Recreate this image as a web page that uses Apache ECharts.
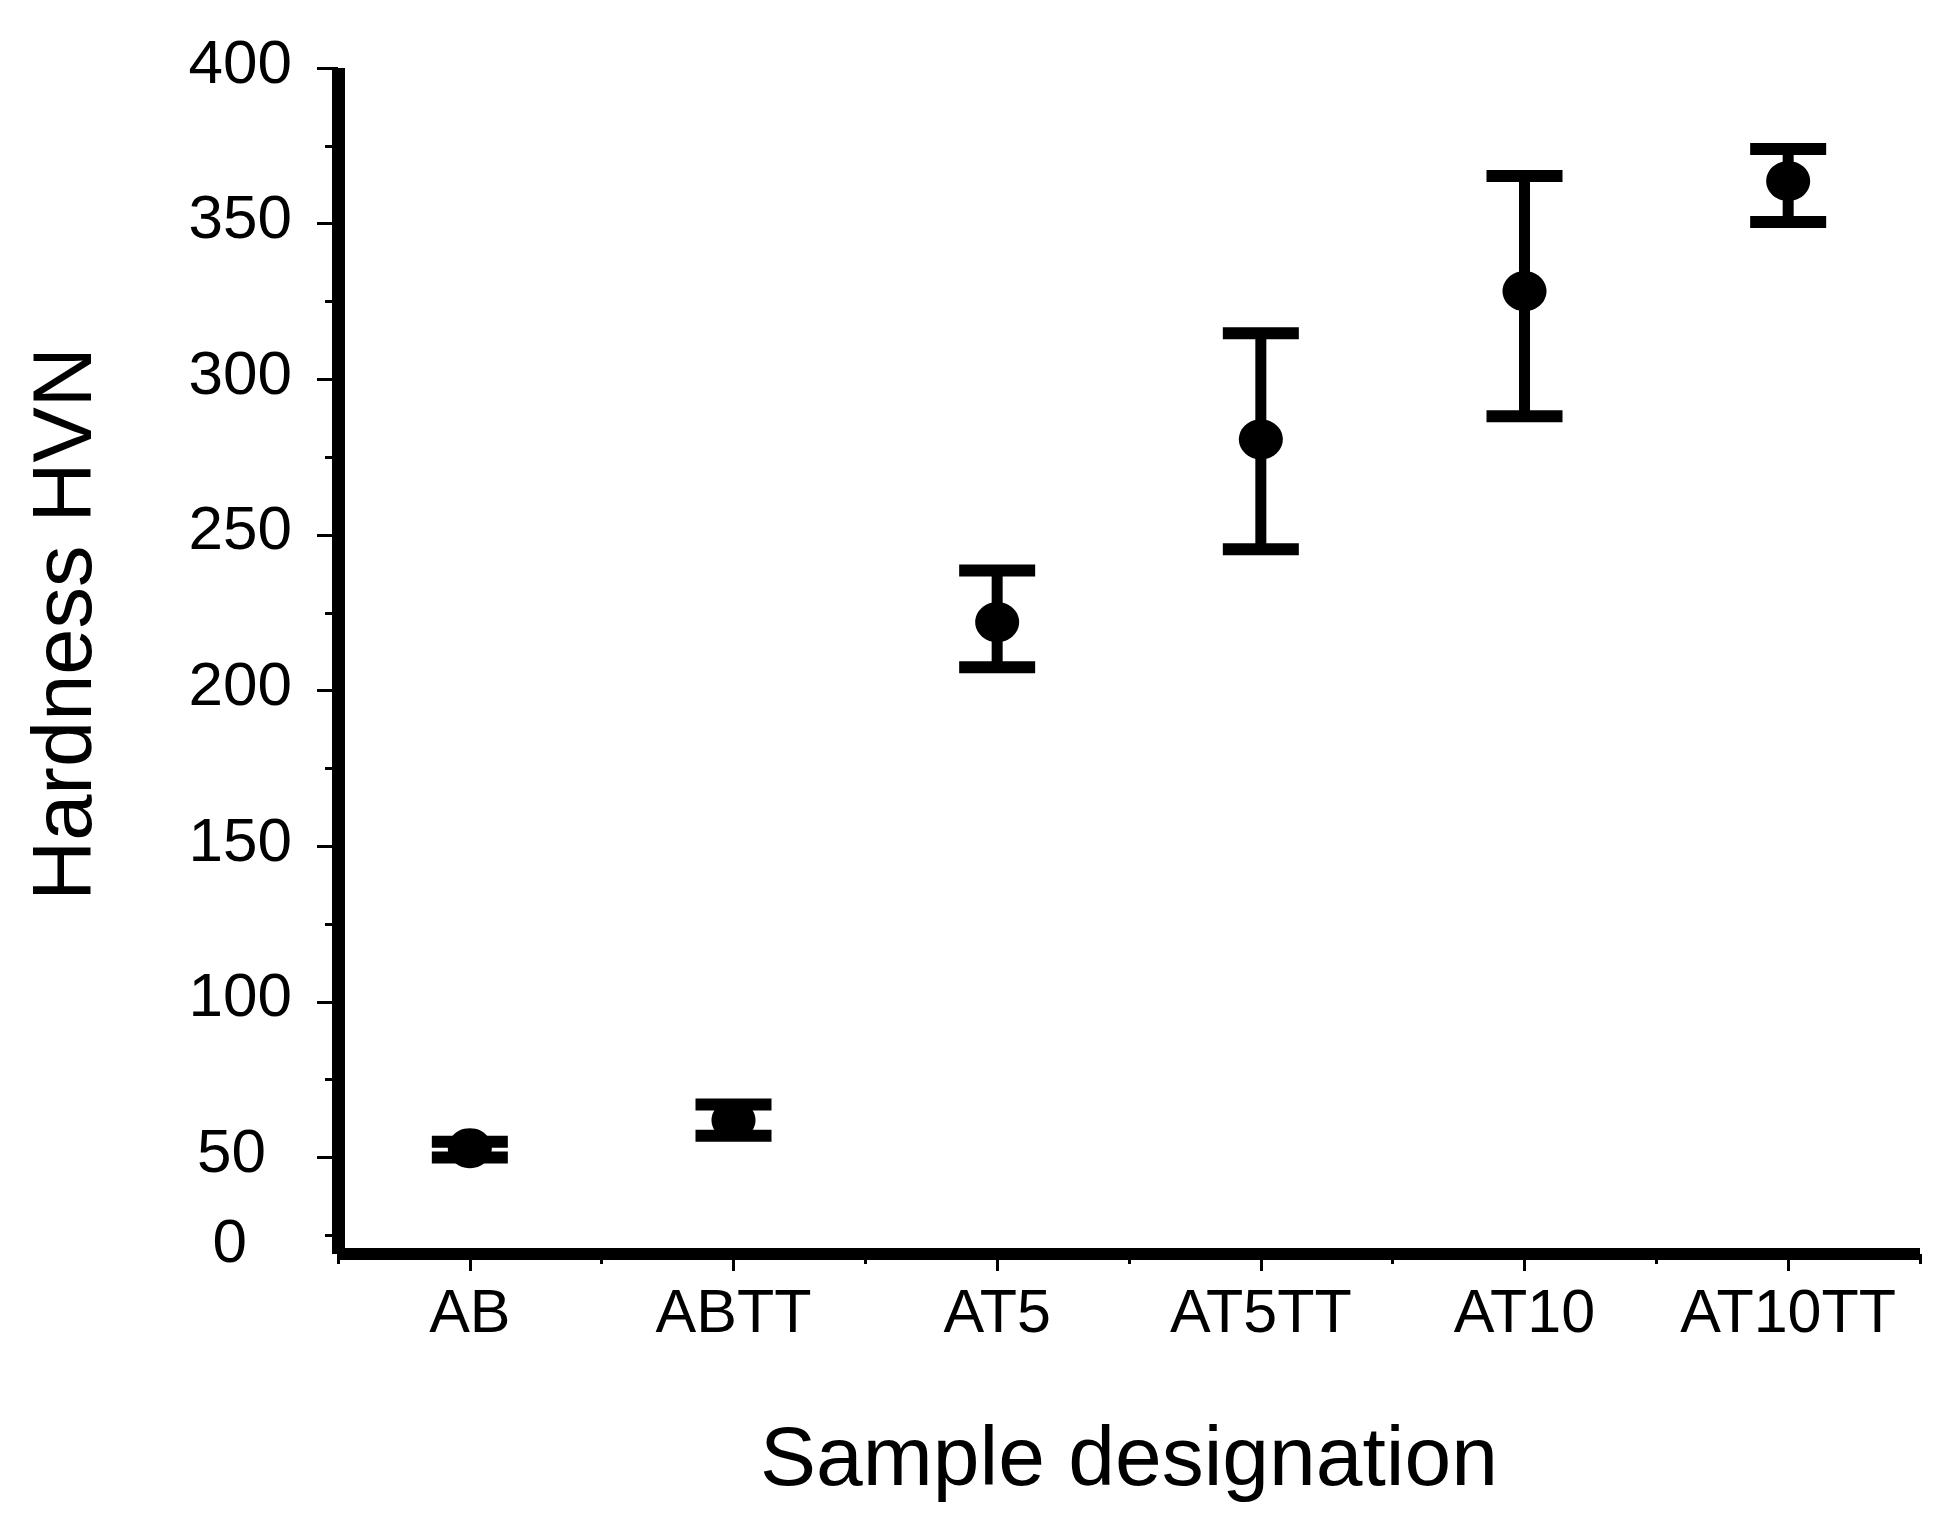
<!DOCTYPE html>
<html>
<head>
<meta charset="utf-8">
<script src="https://cdn.jsdelivr.net/npm/echarts@6/dist/echarts.min.js"></script>
<style>
  html, body { margin: 0; padding: 0; background: #fff; }
  #chart { width: 1957px; height: 1531px; }
</style>
</head>
<body>
<div id="chart"></div>
<script>
// ---- data ----
const categories = ['AB', 'ABTT', 'AT5', 'AT5TT', 'AT10', 'AT10TT'];
const meanValues  = [53, 62, 222, 280.7, 328.3, 363.7];
const upperValues = [55.1, 67, 238.6, 314.8, 365.3, 374];
const lowerValues = [50, 57, 207.5, 245.4, 288.1, 350.5];

// y tick labels (the "0" label sits just below the 25 minor tick in the original)
const yLabelValues = [21, 50, 100, 150, 200, 250, 300, 350, 400];
const yLabelTexts  = ['0', '50', '100', '150', '200', '250', '300', '350', '400'];
const yMajorTicks  = [50, 100, 150, 200, 250, 300, 350, 400];
const yMinorTicks  = [25, 75, 125, 175, 225, 275, 325, 375];

const FONT = '"Liberation Sans", Arial, sans-serif';

const labelStyleFor = { '0': 'b', '50': 'a' };

const chart = echarts.init(document.getElementById('chart'), null, { renderer: 'svg' });

const errData = categories.map((c, i) => [i, lowerValues[i], upperValues[i]]);

const option = {
  animation: false,
  backgroundColor: '#ffffff',
  grid: { left: 338, top: 68, width: 1582, height: 1186, containLabel: false },
  xAxis: [
    {
      type: 'category',
      data: categories,
      boundaryGap: true,
      position: 'bottom',
      axisLine: { show: true, lineStyle: { color: '#000', width: 12, cap: 'butt' } },
      axisTick: { show: true, alignWithLabel: true, interval: 0, length: 17, lineStyle: { color: '#000', width: 3 } },
      axisLabel: { show: true, interval: 0, hideOverlap: false, color: '#000', fontFamily: FONT, fontSize: 61, margin: 26 },
      splitLine: { show: false },
      name: 'Sample designation',
      nameLocation: 'middle',
      nameGap: 160,
      nameTextStyle: { color: '#000', fontFamily: FONT, fontSize: 84 }
    },
    {
      type: 'category',
      data: categories,
      boundaryGap: true,
      position: 'bottom',
      axisLine: { show: false },
      axisTick: { show: true, alignWithLabel: false, interval: 0, length: 10, lineStyle: { color: '#000', width: 3 } },
      axisLabel: { show: false },
      splitLine: { show: false }
    }
  ],
  yAxis: [
    {
      type: 'value',
      min: 19,
      max: 400,
      position: 'left',
      axisLine: { show: true, lineStyle: { color: '#000', width: 13, cap: 'butt' } },
      axisTick: { show: true, customValues: yMajorTicks, length: 21, lineStyle: { color: '#000', width: 3 } },
      axisLabel: {
        show: true,
        customValues: yLabelValues,
        hideOverlap: false,
        margin: 46,
        padding: [0, 0, 14, 0],
        formatter: function (v) {
          const i = yLabelValues.indexOf(v);
          const t = i >= 0 ? yLabelTexts[i] : String(v);
          const s = labelStyleFor[t] || 'n';
          return '{' + s + '|' + t + '}';
        },
        rich: {
          n: { color: '#000', fontFamily: FONT, fontSize: 62 },
          a: { color: '#000', fontFamily: FONT, fontSize: 62, padding: [0, 26, 0, 0] },
          b: { color: '#000', fontFamily: FONT, fontSize: 62, padding: [0, 45, 0, 0] }
        }
      },
      splitLine: { show: false },
      name: 'Hardness HVN',
      nameLocation: 'middle',
      nameRotate: 90,
      nameGap: 234,
      nameTextStyle: { color: '#000', fontFamily: FONT, fontSize: 83, padding: [0, 0, 0, 74] }
    },
    {
      type: 'value',
      min: 19,
      max: 400,
      position: 'left',
      axisLine: { show: false },
      axisTick: { show: true, customValues: yMinorTicks, length: 13, lineStyle: { color: '#000', width: 3 } },
      axisLabel: { show: false },
      splitLine: { show: false }
    }
  ],
  series: [
    {
      type: 'custom',
      xAxisIndex: 0,
      yAxisIndex: 0,
      data: errData,
      z: 3,
      renderItem: function (params, api) {
        const x = api.value(0);
        const lo = api.coord([x, api.value(1)]);
        const hi = api.coord([x, api.value(2)]);
        const hw = 38;
        return {
          type: 'group',
          children: [
            { type: 'line', shape: { x1: lo[0], y1: lo[1], x2: hi[0], y2: hi[1] }, style: { stroke: '#000', lineWidth: 11 } },
            { type: 'line', shape: { x1: hi[0] - hw, y1: hi[1], x2: hi[0] + hw, y2: hi[1] }, style: { stroke: '#000', lineWidth: 12 } },
            { type: 'line', shape: { x1: lo[0] - hw, y1: lo[1], x2: lo[0] + hw, y2: lo[1] }, style: { stroke: '#000', lineWidth: 12 } }
          ]
        };
      }
    },
    {
      type: 'scatter',
      xAxisIndex: 0,
      yAxisIndex: 0,
      data: meanValues,
      symbol: 'circle',
      symbolSize: [44, 40],
      itemStyle: { color: '#000', opacity: 1 },
      z: 4
    }
  ]
};

chart.setOption(option);
</script>
</body>
</html>
